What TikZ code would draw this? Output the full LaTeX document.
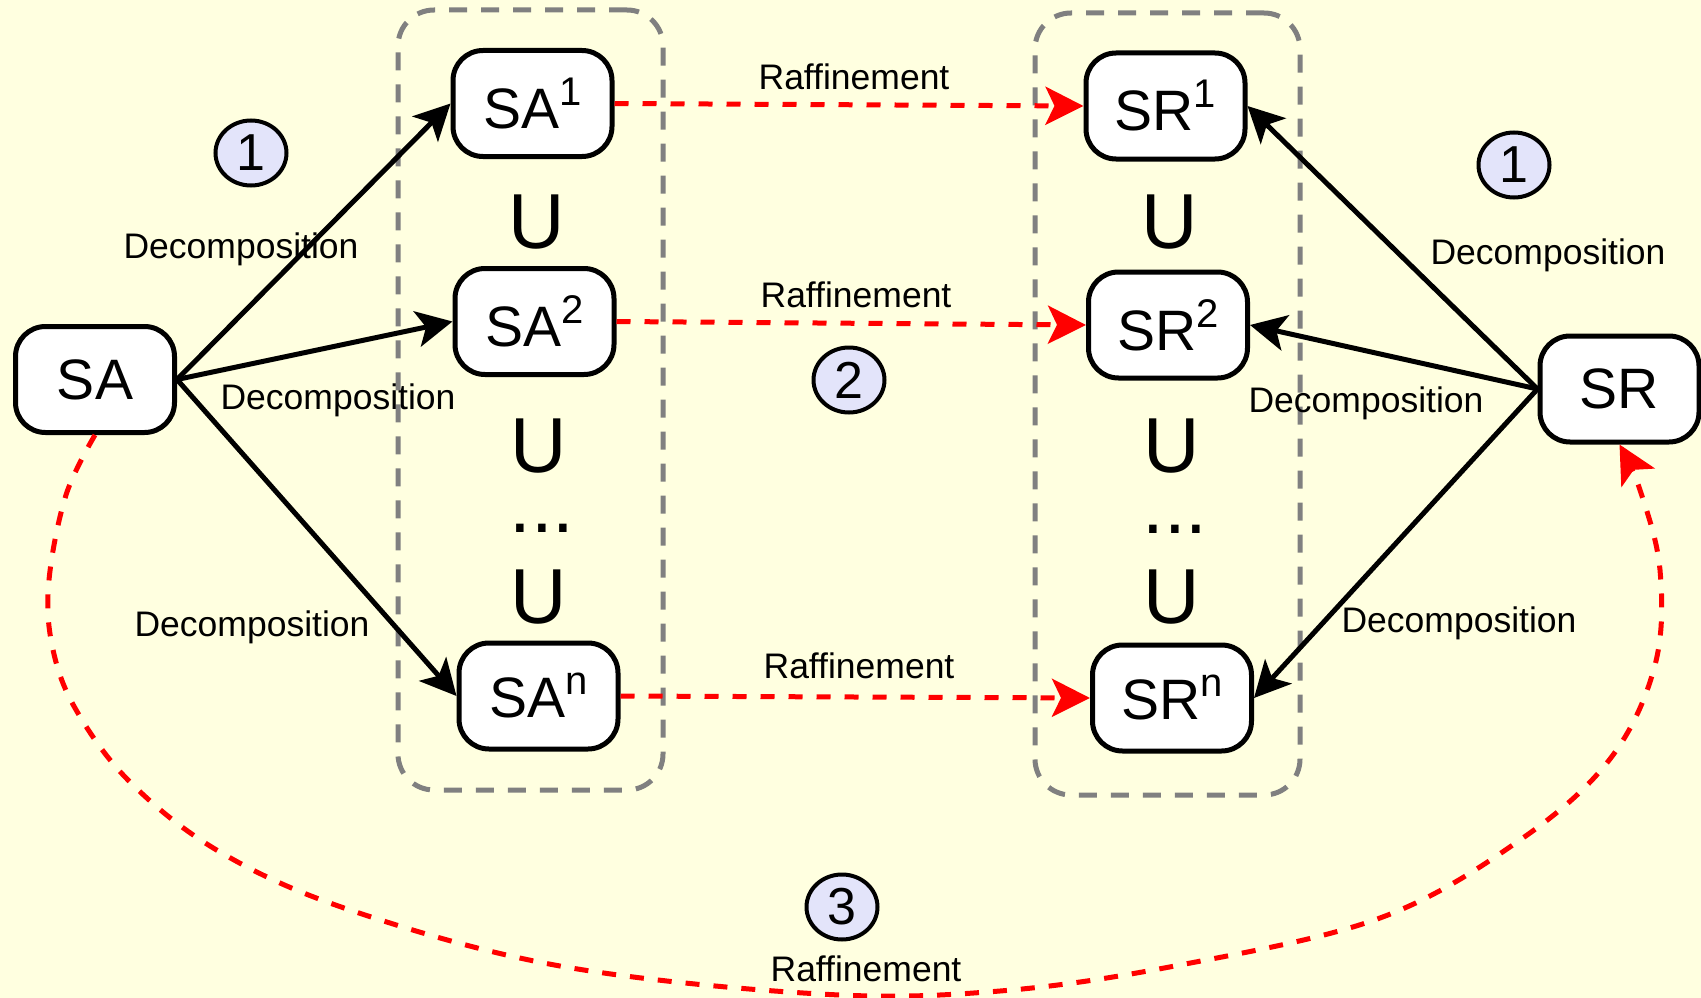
\documentclass[tikz,border=0pt]{standalone}
\usepackage{fontspec}
\setmainfont{Liberation Sans}
\usetikzlibrary{arrows.meta,shapes.geometric}
\definecolor{paper}{HTML}{FFFFE0}
\definecolor{lav}{HTML}{E3E4FA}
\definecolor{grpline}{HTML}{808080}
\newcommand\nodesup[1]{\raisebox{23pt}{\fontsize{40}{40}\selectfont #1}}
\begin{document}
\begin{tikzpicture}[x=1pt,y=-1pt,
  sysbox/.style={draw, line width=5pt, rounded corners=30pt, fill=white,
    minimum width=159pt, minimum height=106pt, inner sep=0pt,
    font=\fontsize{57}{60}\selectfont},
  grpbox/.style={draw=grpline, line width=5pt, dash pattern=on 18pt off 14pt,
    rounded corners=36pt, inner sep=0pt},
  numbadge/.style={ellipse, draw, line width=4pt, fill=lav, inner sep=0pt,
    minimum width=71pt, minimum height=65pt, font=\fontsize{52}{52}\selectfont},
  lbl/.style={font=\fontsize{35.5}{38}\selectfont, inner sep=0pt, anchor=base},
  unionsym/.style={font=\fontsize{78}{80}\selectfont, inner sep=0pt},
  decomp/.style={line width=5pt, -{Stealth[length=36pt, width=36pt, inset=9pt]}},
  refine/.style={draw=red, line width=5pt, dash pattern=on 14pt off 14pt,
    -{Stealth[length=38pt, width=38pt, inset=9pt, fill=red]}}]

\fill[paper] (0,0) rectangle (1701,998);
\useasboundingbox (0,0) rectangle (1701,998);

% dashed groups
\node[grpbox, minimum width=265pt, minimum height=780pt] (gA) at (530.5,400) {};
\node[grpbox, minimum width=265pt, minimum height=782pt] (gR) at (1167.5,404) {};

% systems
\node[sysbox] (SA)  at (95,379.5)   {SA};
\node[sysbox] (SA1) at (532.5,103.5) {SA\nodesup{1}};
\node[sysbox] (SA2) at (534.5,321.5) {SA\nodesup{2}};
\node[sysbox] (SAn) at (538.5,696)   {SA\nodesup{n}};
\node[sysbox] (SR1) at (1165.5,106)  {SR\nodesup{1}};
\node[sysbox] (SR2) at (1168,325)    {SR\nodesup{2}};
\node[sysbox] (SRn) at (1172,698)    {SR\nodesup{n}};
\node[sysbox] (SR)  at (1619.5,389)  {SR};

% union signs between sub-systems
\node[unionsym] (uA1) at (537,222) {U};
\node[unionsym] (uA2) at (539,446) {U};
\node[unionsym] (dA)  at (542,528) {...};
\node[unionsym] (uA3) at (539,597) {U};
\node[unionsym] (uR1) at (1170,222) {U};
\node[unionsym] (uR2) at (1172,446) {U};
\node[unionsym] (dR)  at (1175,529) {...};
\node[unionsym] (uR3) at (1172,597) {U};

% decompositions
\draw[decomp] (SA.east) -- (SA1.west);
\draw[decomp] (SA.east) -- (SA2.west);
\draw[decomp] (SA.east) -- (SAn.west);
\draw[decomp] (SR.west) -- (SR1.east);
\draw[decomp] (SR.west) -- (SR2.east);
\draw[decomp] (SR.west) -- (SRn.east);

% refinements
\draw[refine] (SA1.east) -- (SR1.west);
\draw[refine] (SA2.east) -- (SR2.west);
\draw[refine] (SAn.east) -- (SRn.west);
\draw[refine] plot[smooth, tension=0.6] coordinates {(SA.south) (66,495) (49,580)
  (52,645) (75,708) (130,782) (220,852) (350,910) (560,966) (820,994) (1000,991)
  (1180,965) (1380,918) (1520,840) (1610,759) (1655,665) (1660,570) (1640,490)
  (SR.south)};

% step badges
\node[numbadge] (n1a) at (251,153) {1};
\node[numbadge] (n2)  at (849,380) {2};
\node[numbadge] (n1b) at (1514,165) {1};
\node[numbadge] (n3)  at (842,907) {3};

% labels
\node[lbl] (ld1) at (241,258) {Decomposition};
\node[lbl] (ld2) at (338,409) {Decomposition};
\node[lbl] (ld3) at (252,636) {Decomposition};
\node[lbl] (ld4) at (1548,264) {Decomposition};
\node[lbl] (ld5) at (1366,412) {Decomposition};
\node[lbl] (ld6) at (1459,632) {Decomposition};
\node[lbl] (lr1) at (854,89)  {Raffinement};
\node[lbl] (lr2) at (856,307) {Raffinement};
\node[lbl] (lr3) at (859,678) {Raffinement};
\node[lbl] (lr4) at (866,981) {Raffinement};
\end{tikzpicture}
\end{document}
